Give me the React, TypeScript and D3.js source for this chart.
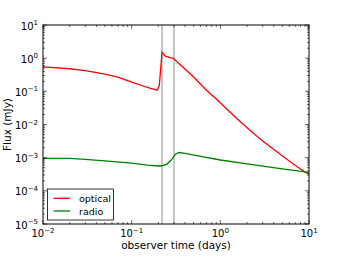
import React, { useRef, useEffect } from 'react';
import * as d3 from 'd3';

const opticalTime = [0.01, 0.02, 0.03, 0.05, 0.07, 0.1, 0.13, 0.16, 0.195, 0.205, 0.22, 0.24, 0.27, 0.29, 0.3, 0.4, 0.5, 0.67, 1.0, 1.5, 2.14, 3.0, 5.0, 7.0, 10.0];
const opticalFlux = [0.55, 0.48, 0.42, 0.33, 0.27, 0.19, 0.15, 0.125, 0.108, 0.15, 1.5, 1.15, 1.04, 1.0, 0.95, 0.47, 0.27, 0.12, 0.045, 0.016, 0.0068, 0.0032, 0.00115, 0.00058, 0.00031];

const radioTime = [0.01, 0.02, 0.03, 0.05, 0.1, 0.15, 0.2, 0.22, 0.25, 0.28, 0.31, 0.34, 0.4, 0.6, 1.0, 2.0, 5.0, 10.0];
const radioFlux = [0.00095, 0.00095, 0.00089, 0.0008, 0.00068, 0.0006, 0.00056, 0.00057, 0.00064, 0.00085, 0.00125, 0.00143, 0.00135, 0.0011, 0.00085, 0.00065, 0.00046, 0.00036];

const markerTimes = [0.22, 0.3];

const xTicks = [-2, -1, 0, 1];
const yTicks = [1, 0, -1, -2, -3, -4, -5];

const series = [
    { name: 'optical', color: '#ff0000', t: opticalTime, f: opticalFlux },
    { name: 'radio', color: '#008000', t: radioTime, f: radioFlux },
];

const App = () => {
    const svgRef = useRef<SVGSVGElement>(null);
    const width = 344;
    const height = 258;

    useEffect(() => {
        const margin = { top: 25, right: 35, bottom: 34, left: 43 };
        const w = width - margin.left - margin.right;
        const h = height - margin.top - margin.bottom;
        const font = 'DejaVu Sans, sans-serif';

        d3.select(svgRef.current).selectAll('*').remove();

        const svg = d3.select(svgRef.current)
            .attr('width', width)
            .attr('height', height);

        const g = svg.append('g')
            .attr('transform', `translate(${margin.left},${margin.top})`);

        const x = d3.scaleLog().domain([0.01, 10]).range([0, w]);
        const y = d3.scaleLog().domain([1e-5, 10]).range([h, 0]);

        g.append('rect')
            .attr('width', w).attr('height', h)
            .attr('fill', 'white');

        // vertical markers
        g.selectAll('.vline')
            .data(markerTimes)
            .enter()
            .append('line')
            .attr('x1', (d) => x(d)).attr('x2', (d) => x(d))
            .attr('y1', 0).attr('y2', h)
            .attr('stroke', '#a0a0a0')
            .attr('stroke-width', 1.2);

        const line = d3.line<[number, number]>()
            .x((d) => x(d[0]))
            .y((d) => y(d[1]));

        series.forEach((s) => {
            const pts = s.t.map((t, i) => [t, s.f[i]] as [number, number]);
            g.append('path')
                .datum(pts)
                .attr('d', line)
                .attr('fill', 'none')
                .attr('stroke', s.color)
                .attr('stroke-width', 1.3);
        });

        // minor + major ticks, inward, on all sides
        const minorX: number[] = [];
        xTicks.slice(0, -1).forEach((e) => {
            for (let k = 2; k < 10; k++) minorX.push(k * Math.pow(10, e));
        });
        const minorY: number[] = [];
        yTicks.slice(1).forEach((e) => {
            for (let k = 2; k < 10; k++) minorY.push(k * Math.pow(10, e));
        });

        const tickG = g.append('g').attr('stroke', 'black').attr('stroke-width', 0.6);
        const addX = (vals: number[], len: number) => {
            vals.forEach((v) => {
                tickG.append('line').attr('x1', x(v)).attr('x2', x(v)).attr('y1', h).attr('y2', h - len);
                tickG.append('line').attr('x1', x(v)).attr('x2', x(v)).attr('y1', 0).attr('y2', len);
            });
        };
        const addY = (vals: number[], len: number) => {
            vals.forEach((v) => {
                tickG.append('line').attr('y1', y(v)).attr('y2', y(v)).attr('x1', 0).attr('x2', len);
                tickG.append('line').attr('y1', y(v)).attr('y2', y(v)).attr('x1', w).attr('x2', w - len);
            });
        };
        addX(xTicks.map((e) => Math.pow(10, e)), 4);
        addX(minorX, 2);
        addY(yTicks.map((e) => Math.pow(10, e)), 4);
        addY(minorY, 2);

        g.append('rect')
            .attr('width', w).attr('height', h)
            .attr('fill', 'none')
            .attr('stroke', 'black')
            .attr('stroke-width', 1);

        const expLabel = (sel: d3.Selection<SVGTextElement, number, any, any>) => {
            sel.append('tspan').text('10');
            sel.append('tspan')
                .attr('dy', -4.5)
                .attr('font-size', 7)
                .text((e) => String(e).replace('-', '\u2212'));
        };

        g.selectAll('.xl')
            .data(xTicks)
            .enter()
            .append('text')
            .attr('x', (e) => x(Math.pow(10, e)))
            .attr('y', h + 13)
            .attr('text-anchor', 'middle')
            .attr('font-family', font)
            .attr('font-size', 10)
            .call(expLabel as any);

        g.selectAll('.yl')
            .data(yTicks)
            .enter()
            .append('text')
            .attr('x', -5)
            .attr('y', (e) => y(Math.pow(10, e)) + 4.5)
            .attr('text-anchor', 'end')
            .attr('font-family', font)
            .attr('font-size', 10)
            .call(expLabel as any);

        svg.append('text')
            .attr('x', margin.left + w / 2)
            .attr('y', 249)
            .attr('text-anchor', 'middle')
            .attr('font-family', font)
            .attr('font-size', 10.5)
            .text('observer time (days)');

        svg.append('text')
            .attr('transform', `translate(11,${margin.top + h / 2}) rotate(-90)`)
            .attr('text-anchor', 'middle')
            .attr('font-family', font)
            .attr('font-size', 10.5)
            .text('Flux (mJy)');

        // legend
        const lg = svg.append('g').attr('transform', 'translate(47.5,189)');
        lg.append('rect')
            .attr('width', 66).attr('height', 31)
            .attr('fill', 'white')
            .attr('stroke', 'black')
            .attr('stroke-width', 0.8);
        series.forEach((s, i) => {
            const yy = 9.3 + i * 12.7;
            lg.append('line')
                .attr('x1', 6).attr('x2', 22.5)
                .attr('y1', yy).attr('y2', yy)
                .attr('stroke', s.color)
                .attr('stroke-width', 1.3);
            lg.append('text')
                .attr('x', 31.5).attr('y', yy + 3.5)
                .attr('font-family', font)
                .attr('font-size', 9.5)
                .text(s.name);
        });
    }, []);

    return (
        <svg ref={svgRef} style={{ position: 'absolute', left: 0, top: 0 }}></svg>
    );
};

export default App;
